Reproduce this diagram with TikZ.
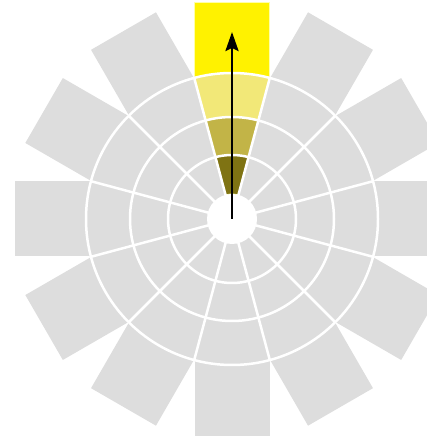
\documentclass[tikz,border=0pt]{standalone}
\usetikzlibrary{arrows.meta}
\definecolor{petal}{HTML}{DDDDDD}
\definecolor{ybright}{HTML}{FFF200}
\definecolor{ylight}{HTML}{F2E878}
\definecolor{ymid}{HTML}{C2B447}
\definecolor{ydark}{HTML}{7F7313}
\definecolor{yedge}{HTML}{FFFFA8}
\tikzset{
  gridline/.style={draw=white, line width=2.5pt},
  wedgepart/.style={draw=yedge, line width=0.8pt},
}
\begin{document}
\begin{tikzpicture}[x=1pt,y=1pt]
\useasboundingbox (0,0) rectangle (427,439);
\clip (0,0) rectangle (427,439);
\coordinate (c) at (232,220);
\coordinate (tip) at (232,407);
% gray disk and petals
\fill[petal] (c) circle (147);
\foreach \a in {0,30,...,330}{
  \begin{scope}[shift={(c)}, rotate=\a]
    \fill[petal] (-37.5,140) rectangle (37.5,217);
  \end{scope}
}
% yellow wedge
\begin{scope}[shift={(c)}]
  \filldraw[wedgepart, fill=ybright] (-37.5,140) rectangle (37.5,217);
  \filldraw[wedgepart, fill=ylight] (75:102) arc (75:105:102) -- (105:146) arc (105:75:146) -- cycle;
  \filldraw[wedgepart, fill=ymid] (75:64) arc (75:105:64) -- (105:102) arc (105:75:102) -- cycle;
  \filldraw[wedgepart, fill=ydark] (75:25) arc (75:105:25) -- (105:64) arc (105:75:64) -- cycle;
  % white grid
  \foreach \r in {64,102,146}{ \draw[gridline] (0,0) circle (\r); }
  \foreach \a in {15,45,...,345}{ \draw[gridline] (\a:20) -- (\a:146); }
  \fill[white] (0,0) circle (25);
\end{scope}
% arrow
\draw[line width=2.7pt, -{Stealth[length=19pt,width=13pt,inset=3pt]}] (c) -- (tip);
\end{tikzpicture}
\end{document}
